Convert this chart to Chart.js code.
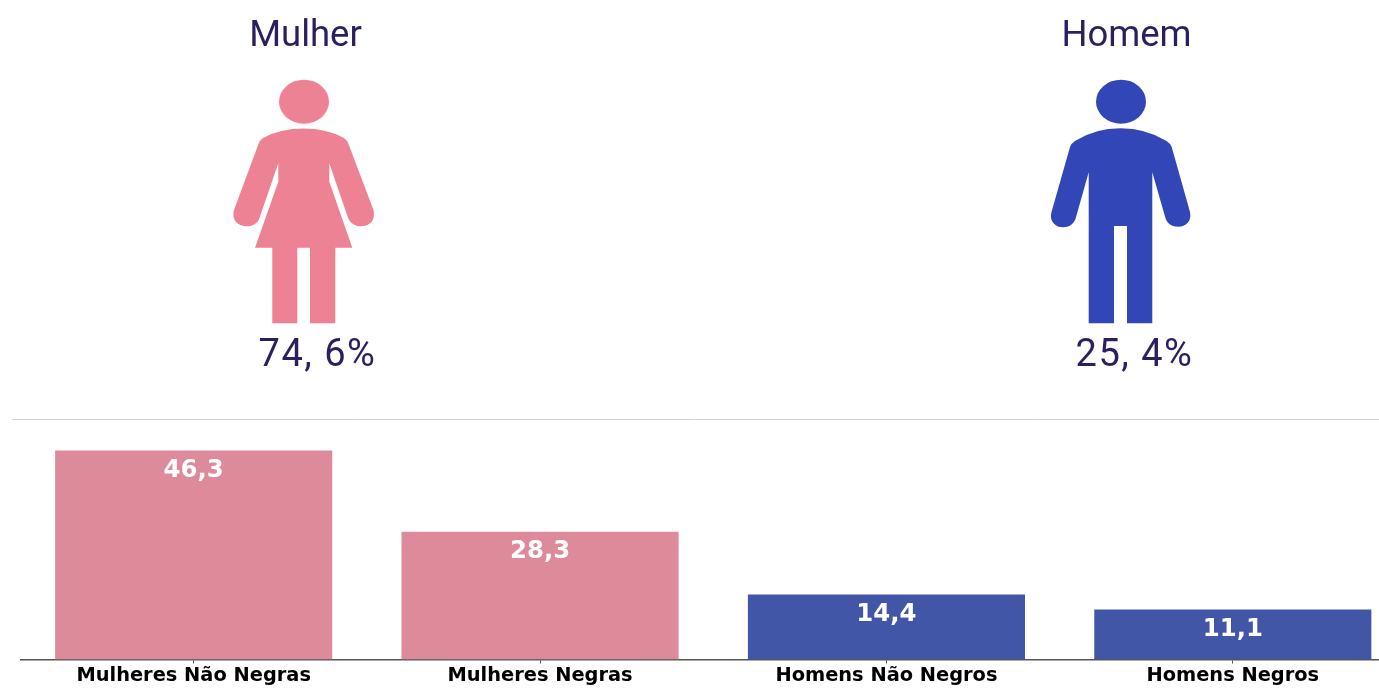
<!DOCTYPE html>
<html>
<head>
<meta charset="utf-8">
<style>html,body{margin:0;padding:0;background:#fff;overflow:hidden}#w{width:1379px;height:688px;overflow:hidden}canvas{display:block}</style>
<script src="https://cdn.jsdelivr.net/npm/chart.js@4"></script>
</head>
<body>
<div id="w"><canvas id="c" width="1406" height="688"></canvas></div>
<script>
const categories = ["Mulheres Não Negras", "Mulheres Negras", "Homens Não Negros", "Homens Negros"];
const values = [46.3, 28.3, 14.4, 11.1];
const barColors = ["#DD8B9B", "#DD8B9B", "#4256A8", "#4256A8"];
const genderLabels = ["Mulher", "Homem"];
const genderPercents = ["74, 6%", "25, 4%"];

const WOMAN = "M258.5 144 Q259.5 140.5 263 138 Q280 128.5 303.5 128.5 Q327 128.5 344 138 Q347.5 140.5 348.5 144 L373.5 210 C376 222 368 226.3 361 226.3 C355 226.3 350 223 348.1 218 L329.3 163.3 L329.3 181.7 L352.3 247.7 L335.3 247.7 L335.3 323.3 L310 323.3 L310 247.7 L297.3 247.7 L297.3 323.3 L272.3 323.3 L272.3 247.7 L255 247.7 L278.3 181.7 L278.3 163.3 L259.5 218 C258 223 253 226.3 247 226.3 C240 226.3 231 222 234 210 Z";
const MAN = "M1070 147 Q1071 143.5 1075 141 Q1095 128.3 1120.5 128.3 Q1146 128.3 1166.5 141 Q1170.5 143.5 1171.7 147 L1190 212 C1192 221 1186 226.8 1178 226.8 C1172 226.8 1167 223.5 1165.5 218.3 L1152.3 172.3 L1152.3 323.3 L1127 323.3 L1127 226 L1114 226 L1114 323.3 L1088.7 323.3 L1088.7 172.3 L1075.7 218.3 C1074 224 1069 227.3 1063 227.3 C1055 227.3 1049 221 1051.5 212 Z";

const decor = {
  id: "decor",
  afterDraw(chart) {
    const ctx = chart.ctx;
    ctx.save();
    ctx.strokeStyle = "#D0D0D0"; ctx.lineWidth = 1;
    ctx.beginPath(); ctx.moveTo(12, 419.5); ctx.lineTo(1379, 419.5); ctx.stroke();
    ctx.fillStyle = "#ED8294";
    ctx.fill(new Path2D(WOMAN));
    ctx.beginPath(); ctx.ellipse(304, 101.7, 25, 22, 0, 0, 2*Math.PI); ctx.fill();
    ctx.fillStyle = "#3346B8";
    ctx.fill(new Path2D(MAN));
    ctx.beginPath(); ctx.ellipse(1121, 101.7, 25, 22, 0, 0, 2*Math.PI); ctx.fill();
    ctx.fillStyle = "#2D1E5F";
    ctx.textAlign = "center"; ctx.textBaseline = "alphabetic";
    ctx.font = '36.5px Roboto';
    ctx.fillText(genderLabels[0], 305.5, 46);
    ctx.fillText(genderLabels[1], 1126.5, 46);
    ctx.font = '38px Roboto';
    ctx.letterSpacing = "1.5px";
    ctx.fillText(genderPercents[0], 317.5, 365.5);
    ctx.fillText(genderPercents[1], 1134.5, 365.5);
    ctx.letterSpacing = "0px";
    ctx.fillStyle = "#FFFFFF";
    ctx.font = 'bold 24.4px "DejaVu Sans"';
    chart.getDatasetMeta(0).data.forEach((bar, i) => {
      ctx.fillText(values[i].toFixed(1).replace(".", ","), bar.x, bar.y + 26.3);
    });
    ctx.restore();
  }
};

new Chart(document.getElementById("c"), {
  type: "bar",
  data: {
    labels: categories,
    datasets: [{ data: values, backgroundColor: barColors, borderWidth: 0, barPercentage: 0.8, categoryPercentage: 1 }]
  },
  options: {
    responsive: false,
    animation: false,
    devicePixelRatio: 1,
    layout: { padding: { top: 433.75, left: 20.5, right: 0, bottom: 0 } },
    plugins: { legend: { display: false }, tooltip: { enabled: false }, title: { display: false } },
    scales: {
      x: {
        afterFit(s) { s.height = 28.5; },
        grid: { display: true, drawOnChartArea: false, drawTicks: true, tickLength: 4, tickColor: "#555", tickWidth: 1, offset: false },
        border: { display: true, color: "#555", width: 1.5 },
        ticks: { color: "#000", font: { family: '"DejaVu Sans"', size: 19.4, weight: "bold" }, padding: 1, maxRotation: 0, autoSkip: false }
      },
      y: { display: false, min: 0, max: 50 }
    }
  },
  plugins: [decor]
});
</script>
</body>
</html>
